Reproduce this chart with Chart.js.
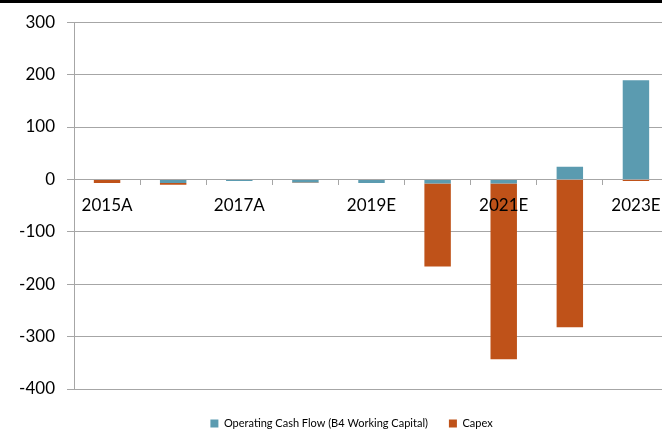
<!DOCTYPE html>
<html>
<head>
<meta charset="utf-8">
<script src="https://cdn.jsdelivr.net/npm/chart.js@4.4.1/dist/chart.umd.min.js"></script>
<style>
  html, body { margin: 0; padding: 0; background: #fff; }
  #frame { position: relative; width: 662px; height: 431px; overflow: hidden; }
  #topRule { position: absolute; left: 0; top: 0; width: 662px; height: 3px; background: #000; z-index: 2; }
  #wrap { position: absolute; left: 0; top: 0; width: 735px; height: 431px; }
</style>
</head>
<body>
<div id="frame">
  <div id="topRule"></div>
  <div id="wrap"><canvas id="chart"></canvas></div>
</div>
<script>
// Fiscal years (A = actual, E = estimate)
const categories = ['2015A', '2016A', '2017A', '2018A', '2019E', '2020E', '2021E', '2022E', '2023E'];
// Operating cash flow before working capital
const operatingCashFlow = [-1, -7, -3, -6, -7, -8, -8, 24, 189];
// Capital expenditure
const capex = [-6, -3, 0, -1, 0, -158, -335, -282, -3];
// Value axis
const yMin = -400;
const yMax = 300;
const yStep = 100;

const axisGrey = '#a6a6a6';
const fontFamily = 'Lato, "Open Sans", sans-serif';

// Nudges the legend row sideways after layout
const legendOffset = {
  id: 'legendOffset',
  afterLayout(chart, args, opts) {
    const lg = chart.legend;
    if (lg) { lg.left += opts.dx; lg.right += opts.dx; }
  }
};

new Chart(document.getElementById('chart'), {
  type: 'bar',
  data: {
    labels: categories,
    datasets: [
      {
        label: 'Operating Cash Flow (B4 Working Capital)',
        data: operatingCashFlow,
        backgroundColor: '#5b9bb0',
        borderWidth: 0
      },
      {
        label: 'Capex',
        data: capex,
        backgroundColor: '#bf5219',
        borderWidth: 0
      }
    ]
  },
  plugins: [legendOffset],
  options: {
    responsive: true,
    maintainAspectRatio: false,
    animation: false,
    datasets: { bar: { categoryPercentage: 1, barPercentage: 0.4 } },
    layout: { padding: { left: 0, right: 66, top: 15, bottom: -8 } },
    plugins: {
      tooltip: { enabled: false },
      legendOffset: { dx: 17 },
      legend: {
        position: 'bottom',
        title: { display: true, text: '', padding: 0, font: { size: 8, lineHeight: 1 } },
        labels: {
          boxWidth: 8,
          boxHeight: 8,
          padding: 21,
          color: '#000',
          font: { family: fontFamily, size: 11 }
        }
      }
    },
    scales: {
      x: {
        stacked: true,
        position: { y: 0 },
        grid: {
          offset: true,
          drawOnChartArea: false,
          drawTicks: true,
          tickLength: 5,
          color: axisGrey
        },
        border: { display: true, color: axisGrey },
        ticks: {
          z: 1,
          autoSkip: false,
          maxRotation: 0,
          padding: 11,
          color: '#000',
          font: { family: fontFamily, size: 17 },
          callback: function (value, index) {
            return index % 2 === 0 ? this.getLabelForValue(value) : '';
          }
        }
      },
      y: {
        stacked: true,
        min: yMin,
        max: yMax,
        afterFit: function (scale) { scale.width = 74; },
        grid: {
          color: axisGrey,
          drawTicks: true,
          tickLength: 7
        },
        border: { display: true, color: axisGrey },
        ticks: {
          stepSize: yStep,
          padding: 12,
          color: '#000',
          font: { family: fontFamily, size: 17 }
        }
      }
    }
  }
});
</script>
</body>
</html>
